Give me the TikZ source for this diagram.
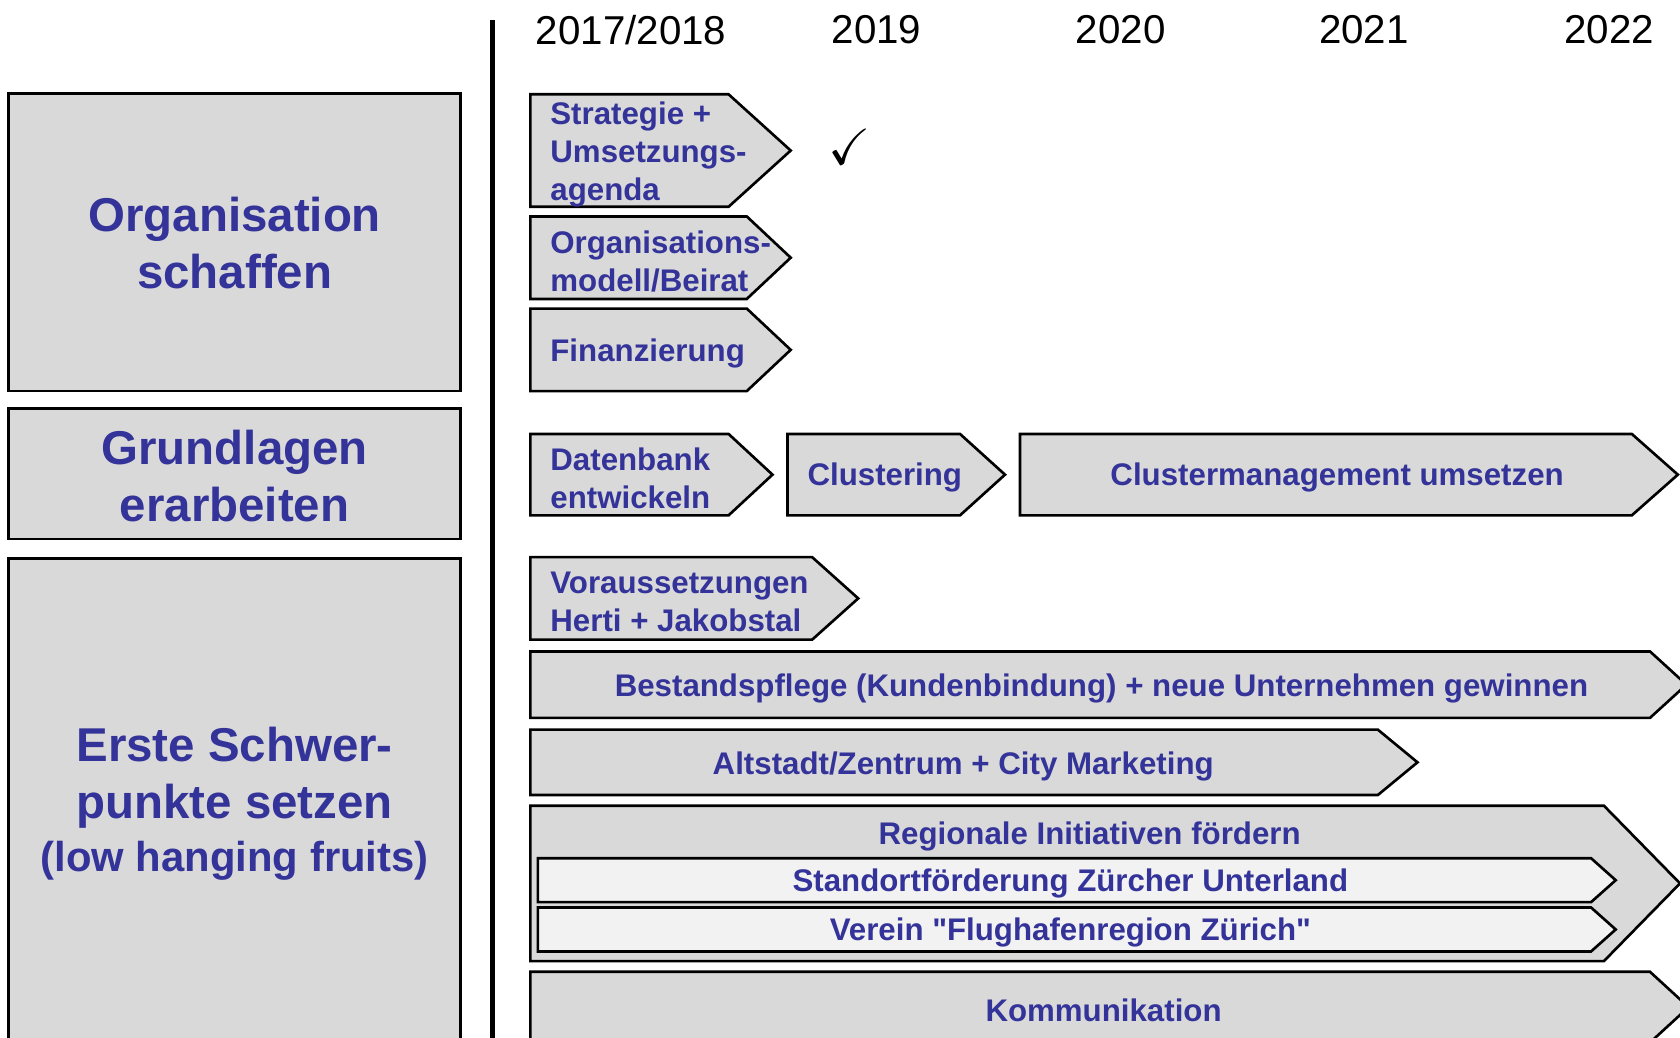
\documentclass[tikz,border=0pt]{standalone}
\usepackage{amssymb}
\usepackage{fontspec}
\setmainfont{Liberation Sans}[Ligatures=TeXOff]
\definecolor{txtblue}{RGB}{51,51,153}
\definecolor{barfill}{RGB}{217,217,217}
\definecolor{subfill}{RGB}{242,242,242}

\begin{document}
\begin{tikzpicture}[x=0.1mm, y=-0.1mm,
    barshape/.style={draw=black, line width=0.7pt, fill=barfill},
    subshape/.style={draw=black, line width=0.7pt, fill=subfill},
    grp/.style={font=\fontsize{12.6}{15.1}\selectfont\bfseries, text=txtblue, align=center},
    yr/.style={font=\fontsize{10.7}{12.8}\selectfont},
    bartxt/.style={font=\fontsize{8.3}{10.1}\selectfont\bfseries, text=txtblue, inner sep=0pt},
    lefttxt/.style={bartxt, anchor=west, align=left}]
    \useasboundingbox (0,0) rectangle (1568,968);

    % Themen links
    \draw[barshape] (8,87) rectangle (430,365);
    \draw[barshape] (8,381) rectangle (430,503);
    \draw[barshape] (8,521) rectangle (430,990);
    \draw[line width=1.3pt] (460,19) -- (460,990);

    % Jahre
    \node[yr] (y1718) at (589,28) {2017/2018};
    \node[yr] (y19) at (818,28) {2019};
    \node[yr] (y20) at (1046,28) {2020};
    \node[yr] (y21) at (1273,28) {2021};
    \node[yr] (y22) at (1502,28) {2022};

    % Balken
    \draw[barshape] (495,88) -- (680,88) -- (738,140.5) -- (680,193) -- (495,193) -- cycle;
    \draw[barshape] (495,202) -- (697,202) -- (738,240.5) -- (697,279) -- (495,279) -- cycle;
    \draw[barshape] (495,288) -- (697,288) -- (738,326.5) -- (697,365) -- (495,365) -- cycle;
    \draw[barshape] (495,405) -- (680,405) -- (721,443) -- (680,481) -- (495,481) -- cycle;
    \draw[barshape] (735,405) -- (896,405) -- (938,443) -- (896,481) -- (735,481) -- cycle;
    \draw[barshape] (952,405) -- (1523,405) -- (1566,443) -- (1523,481) -- (952,481) -- cycle;
    \draw[barshape] (495,520) -- (758,520) -- (801,558.5) -- (758,597) -- (495,597) -- cycle;
    \draw[barshape] (495,608) -- (1540,608) -- (1574,639) -- (1540,670) -- (495,670) -- cycle;
    \draw[barshape] (495,681) -- (1286,681) -- (1323,711.5) -- (1286,742) -- (495,742) -- cycle;
    \draw[barshape] (495,752) -- (1497,752) -- (1568,824.5) -- (1497,897) -- (495,897) -- cycle;
    \draw[subshape] (502,801) -- (1485,801) -- (1508,821.5) -- (1485,842) -- (502,842) -- cycle;
    \draw[subshape] (502,847) -- (1485,847) -- (1508,867.5) -- (1485,888) -- (502,888) -- cycle;
    \draw[barshape] (495,907) -- (1540,907) -- (1576,940) -- (1540,973) -- (495,973) -- cycle;

    % Texte
    \node[grp] (orga) at (219,227) {Organisation\\schaffen};
    \node[grp] (grundl) at (219,444) {Grundlagen\\erarbeiten};
    \node[grp] (schwerp) at (219,750) {Erste Schwer-\\punkte setzen\\[-1pt]{\fontsize{11.1}{14.5}\selectfont (low hanging fruits)}};

    \node[lefttxt] (strat) at (513,144) {Strategie +\\Umsetzungs-\\agenda};
    \node (chk) at (793,137) {\fontsize{13.5}{15}\selectfont$\checkmark$};
    \node[lefttxt] (orgmod) at (513,244) {Organisations-\\modell/Beirat};
    \node[lefttxt] (finanz) at (513,329.5) {Finanzierung};
    \node[lefttxt] (datenb) at (513,446) {Datenbank\\entwickeln};
    \node[lefttxt] (cluster) at (753,446) {Clustering};
    \node[bartxt] (clmgmt) at (1248,446) {Clustermanagement umsetzen};
    \node[lefttxt] (vorauss) at (513,562) {Voraussetzungen\\Herti + Jakobstal};
    \node[bartxt] (bestand) at (1028,643) {Bestandspflege (Kundenbindung) + neue Unternehmen gewinnen};
    \node[bartxt] (altstadt) at (899,715) {Altstadt/Zentrum + City Marketing};
    \node[bartxt] (region) at (1017,781) {Regionale Initiativen fördern};
    \node[bartxt] (standort) at (999,825) {Standortförderung Zürcher Unterland};
    \node[bartxt] (verein) at (999,870) {Verein "Flughafenregion Zürich"};
    \node[bartxt] (komm) at (1030,943) {Kommunikation};
\end{tikzpicture}
\end{document}
